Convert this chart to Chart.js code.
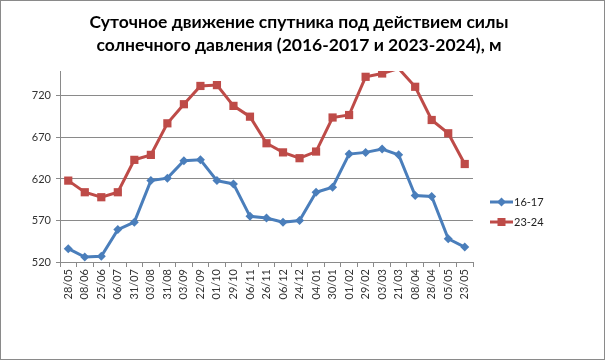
<!DOCTYPE html>
<html><head><meta charset="utf-8">
<script src="https://cdn.jsdelivr.net/npm/chart.js@4/dist/chart.umd.min.js"></script>
<style>html,body{margin:0;padding:0;background:#fff}#wrap{width:606px;height:360px}</style>
</head><body><div id="wrap"><canvas id="c" width="606" height="360"></canvas></div>
<script>
const categories = ["28/05","08/06","25/06","06/07","31/07","03/08","31/08","03/09","22/09","01/10","29/10","06/11","26/11","06/12","24/12","04/01","30/01","01/02","29/02","03/03","21/03","08/04","28/04","05/05","23/05"];
const series1617 = [536,526,527,559,568,618,621,642,643,618,614,575,573,568,570,604,610,650,652,656,649,600,599,548,538];
const series2324 = [618,604,598,604,643,649,687,710,732,733,708,695,663,652,645,653,694,697,743,747,753,731,691,675,638];
const seriesNames = ["16-17","23-24"];
const yTickValues = [520,570,620,670,720];
const titleLines = ["Суточное движение спутника под действием силы","солнечного давления (2016-2017 и 2023-2024), м"];
const yMin = 520, yMax = 750;

const FONT = "Lato, 'Open Sans', sans-serif";

const decor = {
  id: 'decor',
  afterDraw(chart) {
    const ctx = chart.ctx;
    ctx.save();
    ctx.strokeStyle = '#8a8a8a';
    ctx.lineWidth = 1;
    ctx.strokeRect(0.5, 0.5, 604, 359);
    ctx.fillStyle = '#000';
    ctx.font = "bold 17.5px " + FONT;
    ctx.textAlign = 'center';
    ctx.textBaseline = 'alphabetic';
    ctx.fillText(titleLines[0], 299, 28);
    ctx.fillText(titleLines[1], 299, 51);
    const ys = [202, 222];
    chart.data.datasets.forEach((ds, i) => {
      const y = ys[i];
      ctx.strokeStyle = ds.borderColor;
      ctx.lineWidth = 3;
      ctx.beginPath(); ctx.moveTo(490, y); ctx.lineTo(513, y); ctx.stroke();
      ctx.fillStyle = ds.pointBackgroundColor;
      if (ds.pointStyle === 'rect') {
        ctx.fillRect(497.5, y - 4, 8, 8);
      } else {
        ctx.beginPath();
        ctx.moveTo(501.5, y - 4.5); ctx.lineTo(506, y); ctx.lineTo(501.5, y + 4.5); ctx.lineTo(497, y); ctx.closePath(); ctx.fill();
      }
      ctx.fillStyle = '#222';
      ctx.font = "11px " + FONT;
      ctx.textAlign = 'left';
      ctx.textBaseline = 'middle';
      ctx.fillText(ds.label, 514, y + 0.5);
    });
    ctx.restore();
  }
};

const hideOut = r => (c => (c.raw > yMax ? 0 : r));

new Chart(document.getElementById('c'), {
  type: 'line',
  data: {
    labels: categories,
    datasets: [
      { label: seriesNames[0], data: series1617, borderColor: '#4A7EBB', backgroundColor: '#4A7EBB',
        pointBackgroundColor: '#4A7EBB', pointBorderColor: '#4A7EBB', borderWidth: 3,
        pointStyle: 'rectRot', pointRadius: hideOut(4.5), pointBorderWidth: 0, tension: 0, clip: 0 },
      { label: seriesNames[1], data: series2324, borderColor: '#BE4B48', backgroundColor: '#BE4B48',
        pointBackgroundColor: '#BE4B48', pointBorderColor: '#BE4B48', borderWidth: 3,
        pointStyle: 'rect', pointRadius: hideOut(5.8), pointBorderWidth: 0, tension: 0, clip: 0 }
    ]
  },
  options: {
    responsive: false,
    animation: false,
    devicePixelRatio: 1,
    layout: { padding: { left: 0, top: 71, right: 133, bottom: 0 } },
    plugins: { legend: { display: false }, title: { display: false }, tooltip: { enabled: false } },
    scales: {
      x: {
        type: 'category',
        offset: true,
        grid: { display: true, drawOnChartArea: false, drawTicks: true, tickLength: 5, offset: true, color: '#8a8a8a' },
        border: { display: true, color: '#8a8a8a', width: 1 },
        ticks: { autoSkip: false, minRotation: 90, maxRotation: 90, padding: 2, color: '#333', font: { family: FONT, size: 11 } },
        afterFit(s) { s.height = 98; }
      },
      y: {
        min: yMin, max: yMax,
        grid: { color: '#8a8a8a', drawTicks: true, tickLength: 4 },
        border: { display: true, color: '#8a8a8a', width: 1 },
        ticks: { padding: 5, color: '#333', font: { family: FONT, size: 11 } },
        afterBuildTicks(s) { s.ticks = yTickValues.map(v => ({ value: v })); },
        afterFit(s) { s.width = 60; }
      }
    }
  },
  plugins: [decor]
});
</script></body></html>
